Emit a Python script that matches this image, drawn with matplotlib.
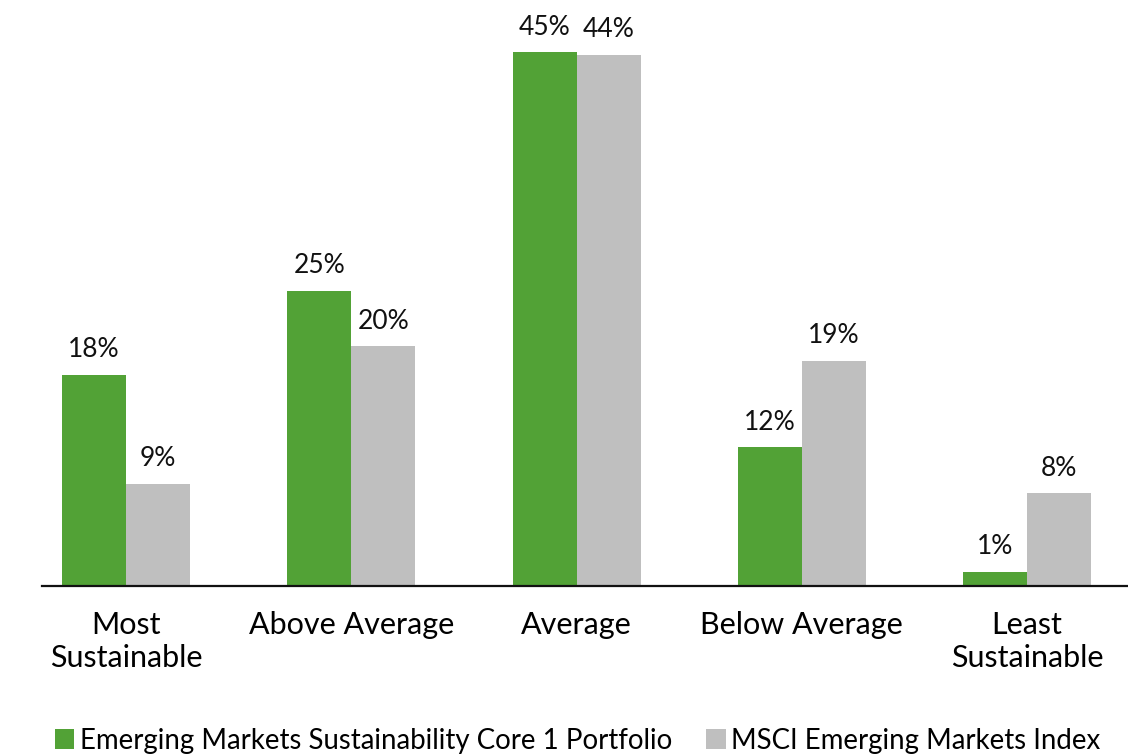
import numpy as np
from matplotlib import pyplot as plt

categories = ["Most\nSustainable", "Above Average", "Average", "Below Average", "Least\nSustainable"]
series_names = ["Emerging Markets Sustainability Core 1 Portfolio", "MSCI Emerging Markets Index"]
portfolio = [17.8, 24.9, 45.0, 11.7, 1.2]
index_vals = [8.6, 20.2, 44.8, 19.0, 7.8]
portfolio_labels = ["18%", "25%", "45%", "12%", "1%"]
index_labels = ["9%", "20%", "44%", "19%", "8%"]

GREEN = "#52a236"
GREY = "#bfbfbf"

plt.rcParams["font.family"] = ["Lato", "DejaVu Sans"]

fig = plt.figure(figsize=(11.28, 7.56), dpi=100)
ax = fig.add_axes([42 / 1128, 170 / 756, 1086 / 1128, 586 / 756])

x = np.arange(len(categories))
w = 0.284
b1 = ax.bar(x - w / 2, portfolio, w, color=GREEN, label=series_names[0])
b2 = ax.bar(x + w / 2, index_vals, w, color=GREY, label=series_names[1])

# value labels above bars
for bars, labels in ((b1, portfolio_labels), (b2, index_labels)):
    for rect, lab in zip(bars, labels):
        ax.annotate(lab, xy=(rect.get_x() + rect.get_width() / 2, rect.get_height()),
                    xytext=(0, 9), textcoords="offset points",
                    ha="center", va="bottom", fontsize=19, color="#111111")

ax.set_xlim(-0.373, 4.448)
ax.set_ylim(0, 49.4)
ax.set_xticks(x)
ax.set_xticklabels(categories, fontsize=22, linespacing=1.22)
ax.tick_params(axis="x", length=0, pad=18)
ax.set_yticks([])
for side in ("top", "right", "left"):
    ax.spines[side].set_visible(False)
ax.spines["bottom"].set_linewidth(1.6)
ax.spines["bottom"].set_color("#111111")

fig.legend(handles=[b1, b2], loc="lower center", bbox_to_anchor=(0.512, -0.03), ncol=2,
           frameon=False, handlelength=0.7, handleheight=0.7,
           handletextpad=0.2, columnspacing=1.25,
           prop={"family": ["Lato"], "size": 19.9})

plt.savefig("out.png", dpi=100)
